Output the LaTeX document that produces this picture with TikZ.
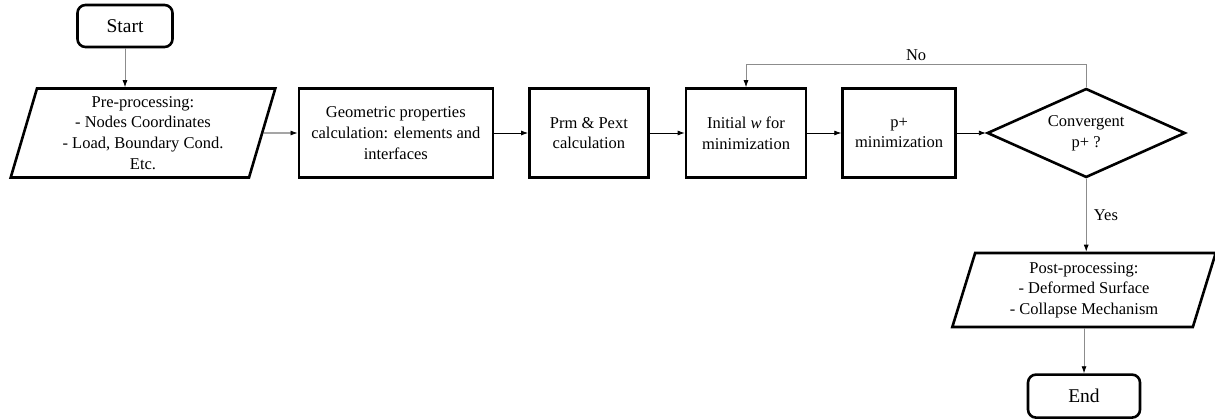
\documentclass[tikz,border=0pt]{standalone}
\usepackage{fontspec}
\setmainfont{Liberation Serif}
\usetikzlibrary{shapes.geometric, arrows.meta, positioning}
\tikzset{>=latex}
\tikzset{
  terminal/.style={rectangle, rounded corners=8pt, draw=black, line width=2.6pt, minimum width=95pt, minimum height=42pt, font=\fontsize{19.5}{23}\selectfont},
  process/.style={rectangle, draw=black, line width=2.6pt, minimum height=89pt, align=center, font=\fontsize{16.5}{20.7}\selectfont},
  io/.style={trapezium, trapezium left angle=76, trapezium right angle=104, trapezium stretches=true, draw=black, line width=2.6pt, align=center, inner xsep=0pt, font=\fontsize{16.5}{20.7}\selectfont},
  decision/.style={diamond, aspect=2.2, draw=black, line width=2.6pt, minimum width=198pt, minimum height=89pt, inner sep=0pt, align=center, font=\fontsize{16.5}{20.7}\selectfont},
  arrow/.style={-{Latex[length=7pt,width=5pt,color=black]}, line width=0.8pt},
  flow/.style={arrow, draw=black!45},
  labelbox/.style={draw=none, font=\fontsize{16.5}{20}\selectfont}
}

\begin{document}
\begin{tikzpicture}[x=1pt, y=-1pt]
\useasboundingbox (0,0) rectangle (1215,419);

% main row
\node[terminal] (start) at (125,26) {Start};
\node[io, minimum width=265pt, minimum height=89pt] (pre) at (143,133)
  {Pre-processing:\\- Nodes Coordinates\\- Load, Boundary Cond.\\Etc.};
\node[process, minimum width=194pt, right=34pt of pre] (geom)
  {Geometric properties\\calculation: elements and\\interfaces};
\node[process, minimum width=119pt, right=34pt of geom] (prm) {Prm \& Pext\\calculation};
\node[process, minimum width=120pt, right=35pt of prm] (init) {Initial \textit{w} for\\minimization};
\node[process, minimum width=113pt, right=34pt of init] (pmin) {p+\\minimization};
\node[decision, right=29pt of pmin] (conv) {Convergent\\p+ ?};

% right column
\node[io, minimum width=264pt, minimum height=74pt] (post) at (1084,290)
  {Post-processing:\\- Deformed Surface\\- Collapse Mechanism};
\node[terminal, minimum width=112pt, minimum height=43pt, below=45pt of post] (end) {End};

% connectors
\draw[flow] (start.south) -- (start.south |- pre.north);
\draw[arrow] (pre) -- (geom);
\draw[arrow] (geom) -- (prm);
\draw[arrow] (prm) -- (init);
\draw[arrow] (init) -- (pmin);
\draw[arrow] (pmin) -- (conv);
\draw[flow] (conv.north) -- ++(0,-23) -| node[labelbox, pos=0.25, above] {No} (init.north);
\draw[flow] (conv.south) -- node[labelbox, right=4pt] {Yes} (conv.south |- post.north);
\draw[flow] (post.south) -- (end.north);

\end{tikzpicture}
\end{document}
